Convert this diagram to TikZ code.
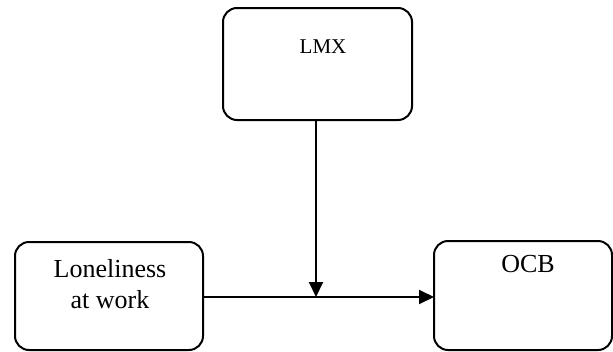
\documentclass[tikz,border=0pt]{standalone}
\usepackage{fontspec}
\setmainfont{Liberation Serif}
\usetikzlibrary{arrows.meta}
\begin{document}
\begin{tikzpicture}[x=1pt,y=-1pt,
  box/.style={draw,line width=2pt,rounded corners=14pt,inner sep=0pt,outer sep=0pt},
  lbl/.style={inner sep=0pt,align=center},
  conn/.style={line width=2pt,-{Triangle[length=15pt,width=14pt]}}]
\useasboundingbox (0,0) rectangle (613,351);
\node[box,minimum width=189pt,minimum height=112pt] (lmx) at (317.5,64) {};
\node[box,minimum width=188pt,minimum height=108pt] (lon) at (109,296) {};
\node[box,minimum width=178pt,minimum height=109pt] (ocb) at (523,295.5) {};
\node[lbl,font=\fontsize{21}{24}\selectfont,anchor=base] (tlmx) at (323,53) {LMX};
\node[lbl,font=\fontsize{26}{31}\selectfont,anchor=base] (tlon) at (110,308) {Loneliness\\at work};
\node[lbl,font=\fontsize{26}{30}\selectfont,anchor=base] (tocb) at (528,272.5) {OCB};
\coordinate (m) at (316,297);
\draw[line width=2pt] (lon.east |- m) -- (m);
\draw[conn] (m) -- (ocb.west |- m);
\draw[conn] (lmx.south -| m) -- (m);
\end{tikzpicture}
\end{document}
